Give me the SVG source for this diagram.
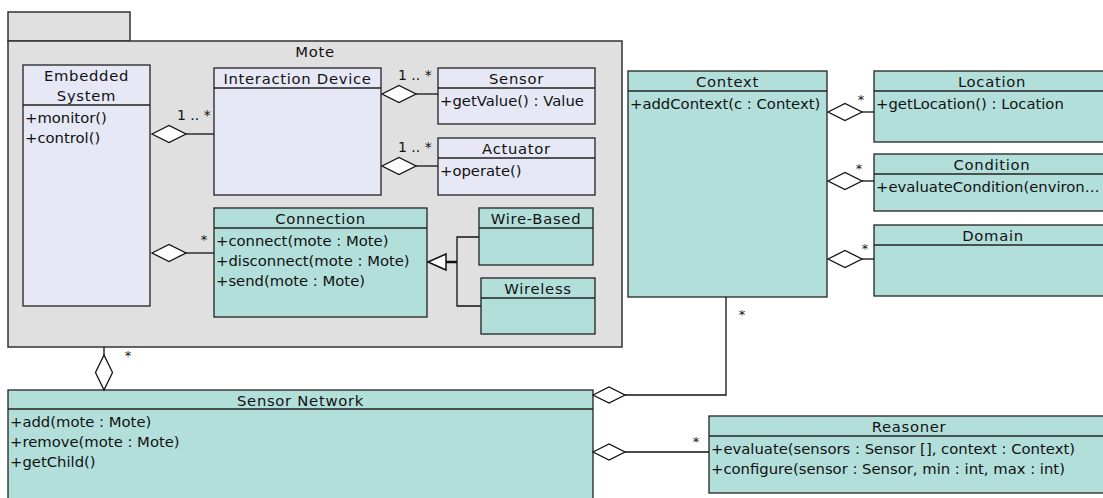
<svg xmlns="http://www.w3.org/2000/svg" width="1103" height="498" viewBox="0 0 1103 498">
<style>
text{font-family:"DejaVu Sans",Verdana,sans-serif;font-size:14.8px;fill:#111}
.h{text-anchor:middle;letter-spacing:0.7px}
.m{font-size:14px}
.mc{font-size:13px;text-anchor:middle}
.pkg{fill:#e0e0e0;stroke:#333;stroke-width:1.5}
.lav{fill:#e6e8f6;stroke:#222;stroke-width:1.3}
.teal{fill:#b3dfdb;stroke:#222;stroke-width:1.3}
.sep{stroke:#222;stroke-width:1.3;fill:none}
.ln{stroke:#111;stroke-width:1.3;fill:none}
.dia{fill:#fff;stroke:#111;stroke-width:1.3}
</style>
<rect width="1103" height="498" fill="#fff"/>
<g id="mote">
<rect class="pkg" x="8" y="12" width="122" height="29"/>
<rect class="pkg" x="8" y="41" width="614" height="306"/>
<text class="h" x="315" y="57">Mote</text>
</g>
<g id="embedded-system">
<rect class="lav" x="23" y="65" width="127" height="241"/>
<line class="sep" x1="23" y1="105" x2="150" y2="105"/>
<text class="h" x="86.5" y="81">Embedded</text>
<text class="h" x="86.5" y="101">System</text>
<text x="25" y="122.5">+monitor()</text>
<text x="25" y="142.5">+control()</text>
</g>
<g id="interaction-device">
<rect class="lav" x="214" y="68" width="167" height="127"/>
<line class="sep" x1="214" y1="88" x2="381" y2="88"/>
<text class="h" x="297.5" y="84">Interaction Device</text>
</g>
<g id="sensor">
<rect class="lav" x="438" y="68" width="157" height="56"/>
<line class="sep" x1="438" y1="88" x2="595" y2="88"/>
<text class="h" x="516.5" y="84">Sensor</text>
<text x="440" y="105.5">+getValue() : Value</text>
</g>
<g id="actuator">
<rect class="lav" x="438" y="138" width="157" height="57"/>
<line class="sep" x1="438" y1="158" x2="595" y2="158"/>
<text class="h" x="516.5" y="154">Actuator</text>
<text x="440" y="175.5">+operate()</text>
</g>
<g id="connection">
<rect class="teal" x="214" y="208" width="213" height="109"/>
<line class="sep" x1="214" y1="228" x2="427" y2="228"/>
<text class="h" x="320.5" y="224">Connection</text>
<text x="216" y="245.5">+connect(mote : Mote)</text>
<text x="216" y="265.5">+disconnect(mote : Mote)</text>
<text x="216" y="285.5">+send(mote : Mote)</text>
</g>
<g id="wire-based">
<rect class="teal" x="479" y="208" width="114" height="57"/>
<line class="sep" x1="479" y1="228" x2="593" y2="228"/>
<text class="h" x="536" y="224">Wire-Based</text>
</g>
<g id="wireless">
<rect class="teal" x="481" y="278" width="114" height="56"/>
<line class="sep" x1="481" y1="298" x2="595" y2="298"/>
<text class="h" x="538" y="294">Wireless</text>
</g>
<g id="context">
<rect class="teal" x="628" y="71" width="199" height="226"/>
<line class="sep" x1="628" y1="91" x2="827" y2="91"/>
<text class="h" x="727.5" y="87">Context</text>
<text x="630" y="108.5">+addContext(c : Context)</text>
</g>
<g id="location">
<rect class="teal" x="874" y="71" width="240" height="71"/>
<line class="sep" x1="874" y1="91" x2="1114" y2="91"/>
<text class="h" x="992" y="87">Location</text>
<text x="876" y="108.5">+getLocation() : Location</text>
</g>
<g id="condition">
<rect class="teal" x="874" y="154" width="240" height="57"/>
<line class="sep" x1="874" y1="174" x2="1114" y2="174"/>
<text class="h" x="992" y="170">Condition</text>
<text x="876" y="191.5">+evaluateCondition(environ…</text>
</g>
<g id="domain">
<rect class="teal" x="874" y="225" width="240" height="71"/>
<line class="sep" x1="874" y1="245" x2="1114" y2="245"/>
<text class="h" x="993" y="241">Domain</text>
</g>
<g id="sensor-network">
<rect class="teal" x="8" y="390" width="585" height="115"/>
<line class="sep" x1="8" y1="409" x2="593" y2="409"/>
<text class="h" x="300.5" y="405.5">Sensor Network</text>
<text x="10" y="426.5">+add(mote : Mote)</text>
<text x="10" y="446.5">+remove(mote : Mote)</text>
<text x="10" y="466.5">+getChild()</text>
</g>
<g id="reasoner">
<rect class="teal" x="709" y="416" width="400" height="77"/>
<line class="sep" x1="709" y1="436" x2="1109" y2="436"/>
<text class="h" x="909" y="432">Reasoner</text>
<text x="711" y="454">+evaluate(sensors : Sensor [], context : Context)</text>
<text x="711" y="474">+configure(sensor : Sensor, min : int, max : int)</text>
</g>
<g id="connectors">
<polygon class="dia" points="152,134 169,125.5 186,134 169,142.5"/>
<line class="ln" x1="186" y1="134" x2="214" y2="134"/>
<text class="m" x="177" y="120">1 .. *</text>
<polygon class="dia" points="382,94 399,85.5 416,94 399,102.5"/>
<line class="ln" x1="416" y1="94" x2="438" y2="94"/>
<text class="m" x="398" y="80">1 .. *</text>
<polygon class="dia" points="382,166 399,157.5 416,166 399,174.5"/>
<line class="ln" x1="416" y1="166" x2="438" y2="166"/>
<text class="m" x="398" y="152">1 .. *</text>
<polygon class="dia" points="152,253 169,244.5 186,253 169,261.5"/>
<line class="ln" x1="186" y1="253" x2="214" y2="253"/>
<text class="mc" x="204" y="244">*</text>
<polygon points="428,262 446,254 446,270" fill="#fff" stroke="#111" stroke-width="1.5"/>
<line x1="446" y1="262" x2="457" y2="262" stroke="#111" stroke-width="2.5"/>
<polyline class="ln" points="479,237 457,237 457,306 481,306"/>
<line class="ln" x1="104" y1="347" x2="104" y2="355"/>
<polygon class="dia" points="104,355 112.5,372.5 104,390 95.5,372.5"/>
<text class="mc" x="128" y="360">*</text>
<polygon class="dia" points="828,112 845,103.5 862,112 845,120.5"/>
<line class="ln" x1="862" y1="112" x2="874" y2="112"/>
<text class="mc" x="861" y="104">*</text>
<polygon class="dia" points="828,181 845,172.5 862,181 845,189.5"/>
<line class="ln" x1="862" y1="181" x2="874" y2="181"/>
<text class="mc" x="859" y="173">*</text>
<polygon class="dia" points="828,259 845,250.5 862,259 845,267.5"/>
<line class="ln" x1="862" y1="259" x2="874" y2="259"/>
<text class="mc" x="865" y="253">*</text>
<polygon class="dia" points="593,395 609,387 625,395 609,403"/>
<polyline class="ln" points="625,395 726,395 726,297"/>
<text class="mc" x="742" y="319">*</text>
<polygon class="dia" points="593,452 609,444 625,452 609,460"/>
<line class="ln" x1="625" y1="452" x2="709" y2="452"/>
<text class="mc" x="696" y="446">*</text>
</g>
</svg>
